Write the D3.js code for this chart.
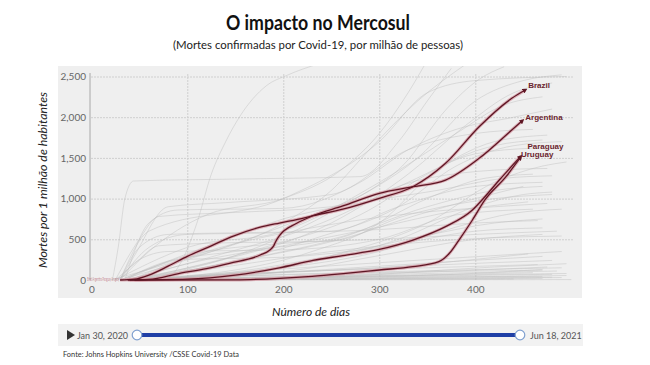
<!DOCTYPE html>
<html><head><meta charset="utf-8">
<script src="https://cdn.jsdelivr.net/npm/d3@7"></script>
<style>body{margin:0;background:#fff;} svg{display:block;font-family:Lato,'Open Sans',sans-serif;}</style>
</head><body><svg id="c" width="650" height="365"></svg>
<script>
// ---- data (day, deaths per million) ----
const countries = ["Brazil", "Argentina", "Paraguay", "Uruguay"];
const brazil = [[30,0],[45,10],[60,60],[80,170],[100,290],[125,420],[148,540],[175,645],[196,700],[215,745],[231,790],[262,870],[300,1004],[335,1146],[369,1433],[404,1883],[438,2232],[452,2334]];
const argentina = [[38,0],[60,8],[92,82],[120,140],[144,205],[176,307],[186,369],[190,420],[192,470],[196,545],[214,697],[231,790],[262,910],[300,1065],[335,1146],[369,1228],[404,1495],[438,1843],[449,1957]];
const paraguay = [[45,0],[100,10],[150,60],[196,150],[231,240],[262,300],[300,375],[335,490],[369,655],[397,860],[410,1023],[425,1228],[447,1515]];
const uruguay = [[40,0],[150,2],[196,20],[230,45],[265,82],[300,123],[335,164],[362,225],[373,328],[383,491],[397,737],[410,983],[432,1269],[447,1505]];
const highlight = [brazil, argentina, paraguay, uruguay];

const grayLines = [
 [[79,0],[95,250],[110,700],[125,1300],[140,1700],[155,2015],[182,2383],[205,2520],[235,2650]],
 [[30,0],[60,350],[120,800],[200,1000],[260,1350],[300,1800],[330,2300],[350,2700]],
 [[20,0],[80,200],[200,700],[250,1100],[290,1605],[340,2200],[390,2650]],
 [[30,0],[100,250],[230,800],[290,1100],[324,1400],[370,2100],[404,2466],[430,2620]],
 [[40,0],[150,300],[260,900],[340,1500],[400,2200],[450,2450],[490,2520]],
 [[35,0],[120,200],[250,700],[330,1300],[390,1900],[440,2300],[480,2420]],
 [[25,0],[100,400],[200,600],[300,1200],[380,1800],[430,2150],[470,2250]],
 [[30,0],[60,600],[200,1000],[300,1700],[350,2300],[400,2450],[495,2500]],
 [[22,0],[28,400],[35,1000],[44,1216],[150,1240],[280,1270],[320,1700],[350,2200],[375,2600]],
 [[45,0],[180,400],[280,800],[350,1300],[420,1700],[475,1780]],
 [[50,0],[230,500],[320,900],[380,1400],[440,1650],[490,1700]],
 [[35,0],[130,300],[240,700],[330,1200],[400,1550],[460,1620]],
 [[30,0],[50,400],[80,560],[150,580],[250,600],[320,900],[400,1150],[470,1200]],
 [[25,0],[45,200],[70,420],[120,450],[250,480],[330,800],[420,1000],[480,1050]],
 [[35,0],[60,150],[90,250],[200,280],[300,400],[400,600],[470,640]],
 [[28,0],[50,250],[80,350],[200,370],[300,500],[380,800],[460,870]],
 [[35,0],[100,300],[200,450],[300,500],[400,560],[485,600]],
 [[40,0],[150,100],[250,300],[350,550],[420,700],[470,750]],
 [[45,0],[200,150],[300,350],[380,650],[440,820],[490,870]],
 [[30,0],[60,400],[100,560],[200,580],[300,620],[400,700],[465,730]],
 [[50,0],[220,200],[320,500],[400,900],[450,1050],[480,1080]],
 [[30,0],[90,250],[150,350],[250,500],[350,900],[420,1100],[470,1150]],
 [[40,0],[180,300],[280,600],[350,1000],[410,1250],[460,1300]],
 [[25,0],[50,500],[70,780],[150,830],[250,900],[350,1250],[420,1350],[475,1370]],
 [[30,0],[45,300],[80,900],[140,950],[250,1050],[330,1600],[400,1800],[460,1850]],
 [[35,0],[60,700],[90,860],[200,880],[280,1200],[330,1600],[380,1850],[440,2000],[480,2100]],
 [[60,0],[250,300],[350,700],[420,1200],[470,1400],[495,1450]],
 [[45,0],[160,250],[260,500],[340,800],[400,1000],[450,1150]],
 [[55,0],[230,350],[300,700],[360,1350],[420,1650],[470,1720]],
 [[40,0],[100,200],[200,420],[300,650],[380,850],[455,960]],
 [[30,0],[140,500],[200,750],[280,950],[360,1100],[430,1250],[480,1280]],
 [[50,0],[200,100],[300,300],[400,500],[470,560]],
 [[45,0],[150,180],[250,350],[330,450],[420,520],[490,540]],
 [[40,0],[120,350],[220,620],[320,800],[420,900],[475,940]],
 [[45,0],[200,10],[350,20],[490,30]],
 [[40,0],[200,5],[400,15],[470,20]],
 [[50,0],[250,20],[400,40],[495,55]],
 [[30,0],[150,15],[300,40],[480,70]],
 [[45,0],[180,30],[330,60],[460,90]],
 [[40,0],[200,40],[350,80],[485,110]],
 [[50,0],[220,30],[380,70],[470,130]],
 [[35,0],[150,50],[300,100],[490,150]],
 [[55,0],[250,60],[400,120],[475,160]],
 [[40,0],[160,80],[320,140],[465,190]],
 [[60,0],[250,40],[420,160],[495,200]],
 [[45,0],[200,90],[350,180],[480,240]],
 [[50,0],[220,110],[380,230],[470,290]],
 [[40,0],[120,60],[300,150],[455,320]],
 [[35,0],[180,120],[350,250],[490,350]],
 [[45,0],[260,8],[440,12]],
 [[60,0],[300,3],[500,5]],
 [[30,0],[200,25],[470,45]],
 [[40,0],[250,15],[480,35]],
 [[55,0],[300,50],[495,80]],
 [[35,0],[220,70],[400,110],[470,120]]
];
const xTicks = [0, 100, 200, 300, 400];
const yTicks = [0, 500, 1000, 1500, 2000, 2500];
const startDate = "Jan 30, 2020", endDate = "Jun 18, 2021";

// ---- drawing ----
const svg = d3.select("#c");
const x = d3.scaleLinear().domain([0, 500]).range([91.3, 571.3]);
const y = d3.scaleLinear().domain([0, 2500]).range([280, 76.5]);

svg.append("rect").attr("x", 58).attr("y", 66).attr("width", 524).attr("height", 232).attr("fill", "#efefef");

const defs = svg.append("defs");
defs.append("clipPath").attr("id", "clip").append("rect").attr("x", 91).attr("y", 66).attr("width", 486).attr("height", 216);
defs.append("marker").attr("id", "arr").attr("viewBox", "0 0 10 10").attr("refX", 5).attr("refY", 5)
  .attr("markerWidth", 5).attr("markerHeight", 5).attr("orient", "auto").attr("markerUnits", "userSpaceOnUse")
  .append("path").attr("d", "M0,0L10,5L0,10Z").attr("fill", "#5e1624");

// gridlines
svg.append("g").attr("transform", "translate(0,280)")
  .call(d3.axisBottom(x).tickValues(xTicks.slice(1)).tickSize(-207).tickFormat(""))
  .call(g => g.select(".domain").remove())
  .call(g => g.selectAll("line").attr("stroke", "#cfcfcf").attr("stroke-dasharray", "2,1"));
svg.append("g").attr("transform", "translate(91,0)")
  .call(d3.axisLeft(y).tickValues(yTicks.slice(1)).tickSize(-483).tickFormat(""))
  .call(g => g.select(".domain").remove())
  .call(g => g.selectAll("line").attr("stroke", "#cfcfcf").attr("stroke-dasharray", "2,1"));

const line = d3.line().x(d => x(d[0])).y(d => y(d[1])).curve(d3.curveMonotoneX);
const plot = svg.append("g").attr("clip-path", "url(#clip)");
plot.selectAll(".gl").data(grayLines).join("path").attr("class", "gl")
  .attr("d", line).attr("fill", "none").attr("stroke", "#bcbcbc").attr("stroke-width", 0.8).attr("stroke-opacity", 0.55);

// y axis
svg.append("g").attr("transform", "translate(90,0)")
  .call(d3.axisLeft(y).tickValues(yTicks).tickSize(0).tickPadding(4).tickFormat(d3.format(",")))
  .call(g => g.select(".domain").attr("stroke", "#a8a8a8").attr("d", "M0,73V280"))
  .call(g => g.selectAll("text").attr("fill", "#666").attr("font-size", 10).attr("font-family", "Lato"));
svg.append("g").attr("transform", "translate(0,280)")
  .call(d3.axisBottom(x).tickValues(xTicks).tickSize(0).tickPadding(6))
  .call(g => g.select(".domain").remove())
  .call(g => g.selectAll("text").attr("fill", "#666").attr("font-size", 10).attr("font-family", "Lato"));

// tiny start labels (squeezed together as in the source)
svg.append("text").attr("x", x(0) - 4).attr("y", y(0) + 0.5)
  .attr("font-size", 5.5).attr("fill", "#b0505f").attr("fill-opacity", 0.75)
  .attr("textLength", 32).attr("lengthAdjust", "spacingAndGlyphs").text(countries.join(" "));

// highlighted lines
const hl = svg.append("g").attr("clip-path", "url(#clip)");
hl.selectAll(".halo").data(highlight).join("path").attr("d", line).attr("fill", "none")
  .attr("stroke", "#d69aa4").attr("stroke-width", 3.2).attr("stroke-opacity", 0.75);
hl.selectAll(".core").data(highlight).join("path").attr("d", line).attr("fill", "none")
  .attr("stroke", "#5e1624").attr("stroke-width", 1.3).attr("marker-end", "url(#arr)");

// country labels
const lab = svg.append("g").attr("font-family", "'Liberation Sans',Arial,sans-serif").attr("font-weight", "bold")
  .attr("font-size", 8).attr("fill", "#6b1f2e");
const last = a => a[a.length - 1];
lab.append("text").attr("x", x(last(brazil)[0]) + 3).attr("y", y(last(brazil)[1]) - 2).text(countries[0]);
lab.append("text").attr("x", x(last(argentina)[0]) + 3).attr("y", y(last(argentina)[1]) - 1).text(countries[1]);
lab.append("text").attr("x", x(last(paraguay)[0]) + 7).attr("y", y(last(paraguay)[1]) - 8).text(countries[2]);
lab.append("text").attr("x", x(last(uruguay)[0]) + 0.5).attr("y", y(last(uruguay)[1]) - 0.5).text(countries[3]);

// titles
svg.append("text").attr("x", 226).attr("y", 30).attr("font-size", 20).attr("font-weight", "bold")
  .attr("fill", "#111").attr("textLength", 184).attr("lengthAdjust", "spacingAndGlyphs").text("O impacto no Mercosul");
svg.append("text").attr("x", 173).attr("y", 49).attr("font-size", 12).attr("fill", "#222")
  .attr("textLength", 290).attr("lengthAdjust", "spacingAndGlyphs").text("(Mortes confirmadas por Covid-19, por milhão de pessoas)");
svg.append("text").attr("x", 272).attr("y", 316).attr("font-size", 12).attr("font-style", "italic").attr("fill", "#222")
  .attr("textLength", 78).attr("lengthAdjust", "spacingAndGlyphs").text("Número de dias");
svg.append("text").attr("transform", "translate(47,180) rotate(-90)").attr("text-anchor", "middle")
  .attr("font-size", 12).attr("font-style", "italic").attr("fill", "#222")
  .attr("textLength", 176).attr("lengthAdjust", "spacingAndGlyphs").text("Mortes por 1 milhão de habitantes");

// slider
svg.append("rect").attr("x", 58).attr("y", 324).attr("width", 525).attr("height", 22).attr("fill", "#f2f2f2");
svg.append("path").attr("d", "M67,330L75,335L67,340Z").attr("fill", "#333");
svg.append("text").attr("x", 77).attr("y", 338.5).attr("font-size", 9).attr("fill", "#555").text(startDate);
svg.append("line").attr("x1", 137).attr("x2", 520).attr("y1", 335).attr("y2", 335).attr("stroke", "#1f3fa6").attr("stroke-width", 4);
[137, 520].forEach(cx => svg.append("circle").attr("cx", cx).attr("cy", 335).attr("r", 4.8)
  .attr("fill", "#fff").attr("stroke", "#7fa0d0").attr("stroke-width", 1.2));
svg.append("text").attr("x", 530).attr("y", 338.5).attr("font-size", 9).attr("fill", "#555").text(endDate);
svg.append("text").attr("x", 63).attr("y", 357).attr("font-size", 7.5).attr("fill", "#333")
  .attr("textLength", 176).attr("lengthAdjust", "spacingAndGlyphs").text("Fonte: Johns Hopkins University /CSSE Covid-19 Data");
</script></body></html>
